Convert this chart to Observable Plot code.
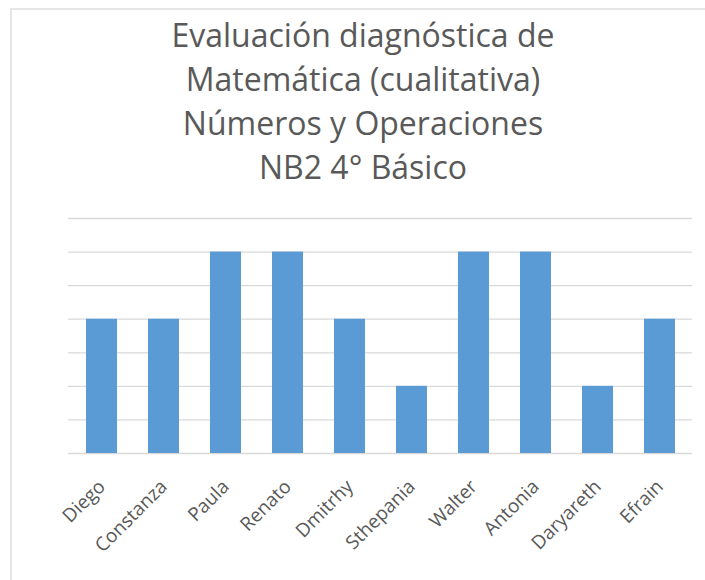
<!DOCTYPE html>
<html>
<head>
<meta charset="utf-8">
<script src="https://cdn.jsdelivr.net/npm/d3@7"></script>
<script src="https://cdn.jsdelivr.net/npm/@observablehq/plot@0.6"></script>
<style>
  html, body { margin: 0; padding: 0; background: #fff; }
  #wrap { position: relative; width: 705px; height: 580px; overflow: hidden; background: #fff; }
  #frame { position: absolute; left: 10px; top: 8px; width: 720px; height: 600px;
           border-top: 2px solid #e6e6e6; border-left: 2px solid #e6e6e6; box-sizing: border-box; }
  #title { position: absolute; left: 13px; width: 700px; top: 13px; text-align: center;
           font-family: "Open Sans", sans-serif; font-size: 32px; line-height: 44px; color: #595959; }
  #chart { position: absolute; left: 0; top: 200px; }
</style>
</head>
<body>
<div id="wrap">
  <div id="frame"></div>
  <div id="title">Evaluación diagnóstica de<br>Matemática (cualitativa)<br>Números y Operaciones<br>NB2 4° Básico</div>
  <div id="chart"></div>
</div>
<script>
const students = ["Diego", "Constanza", "Paula", "Renato", "Dmitrhy", "Sthepania", "Walter", "Antonia", "Daryareth", "Efrain"];
const scores = [4, 4, 6, 6, 4, 2, 6, 6, 2, 4];
const yTicks = [0, 1, 2, 3, 4, 5, 6, 7];

const data = students.map((name, i) => ({name, score: scores[i]}));

const chart = Plot.plot({
  width: 705,
  height: 370,
  marginLeft: 68,
  marginRight: 13,
  marginTop: 18,
  marginBottom: 117,
  style: {fontFamily: "Open Sans, sans-serif", fontSize: "19px", color: "#595959", background: "transparent"},
  x: {domain: students, paddingInner: 0.5, paddingOuter: 0.25, label: null},
  y: {domain: [0, 7], label: null},
  marks: [
    Plot.gridY(yTicks, {stroke: "#d9d9d9", strokeOpacity: 1, strokeWidth: 1.3}),
    Plot.barY(data, {x: "name", y: "score", fill: "#5b9bd5"}),
    Plot.axisX({tickSize: 0, tickRotate: -45, tickPadding: 30, fill: "#595959", fontSize: 19, label: null}),
    Plot.axisY({ticks: [], label: null})
  ]
});
document.getElementById("chart").appendChild(chart);
</script>
</body>
</html>
